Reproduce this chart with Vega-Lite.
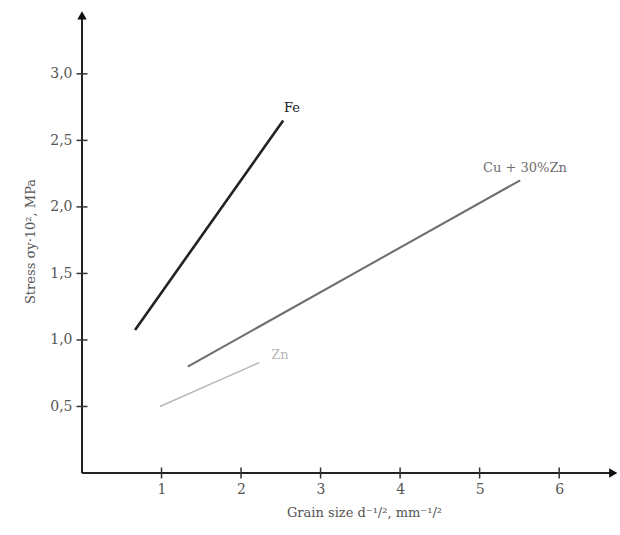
{
  "$schema": "https://vega.github.io/schema/vega-lite/v6.json",
  "width": 536,
  "height": 463,
  "padding": {"left": 82, "top": 10, "right": 2, "bottom": 62},
  "autosize": {"type": "none"},
  "background": "white",
  "config": {
    "view": {"stroke": null},
    "font": "DejaVu Serif",
    "axis": {
      "domain": false,
      "grid": false,
      "ticks": false,
      "labelFont": "DejaVu Serif",
      "labelFontSize": 14,
      "labelColor": "#555",
      "titleFont": "DejaVu Serif",
      "titleFontSize": 13,
      "titleFontWeight": "normal",
      "titleColor": "#555"
    }
  },
  "datasets": {
    "lines": [
      {"series": "Fe", "x": 0.667, "y": 1.075},
      {"series": "Fe", "x": 2.53, "y": 2.65},
      {"series": "Cu + 30%Zn", "x": 1.33, "y": 0.8},
      {"series": "Cu + 30%Zn", "x": 5.51, "y": 2.2},
      {"series": "Zn", "x": 0.98, "y": 0.5},
      {"series": "Zn", "x": 2.23, "y": 0.83}
    ],
    "labels": [
      {"series": "Fe", "x": 2.64, "y": 2.74},
      {"series": "Cu + 30%Zn", "x": 5.57, "y": 2.29},
      {"series": "Zn", "x": 2.49, "y": 0.89}
    ],
    "axisLines": [
      {"axis": "y", "x": 0, "y": 0, "x2": 0, "y2": 3.42},
      {"axis": "x", "x": 0, "y": 0, "x2": 6.66, "y2": 0}
    ],
    "arrows": [
      {"axis": "y", "x": 0, "y": 3.44, "dir": "up"},
      {"axis": "x", "x": 6.68, "y": 0, "dir": "right"}
    ],
    "yTicks": [
      {"x": 0, "y": 0.5}, {"x": 0, "y": 1}, {"x": 0, "y": 1.5},
      {"x": 0, "y": 2}, {"x": 0, "y": 2.5}, {"x": 0, "y": 3}
    ],
    "xTicks": [
      {"x": 1, "y": 0}, {"x": 2, "y": 0}, {"x": 3, "y": 0},
      {"x": 4, "y": 0}, {"x": 5, "y": 0}, {"x": 6, "y": 0}
    ]
  },
  "layer": [
    {
      "data": {"name": "axisLines"},
      "mark": {"type": "rule", "color": "#222", "strokeWidth": 2},
      "encoding": {
        "x": {
          "field": "x",
          "type": "quantitative",
          "scale": {"domain": [0, 6.74], "nice": false, "zero": false},
          "axis": {
            "values": [1, 2, 3, 4, 5, 6],
            "format": "d",
            "labelPadding": 9,
            "title": "Grain size d⁻¹/²,  mm⁻¹/²",
            "titlePadding": 10,
            "titleX": 282
          }
        },
        "y": {
          "field": "y",
          "type": "quantitative",
          "scale": {"domain": [0, 3.48], "nice": false, "zero": false},
          "axis": {
            "values": [0.5, 1, 1.5, 2, 2.5, 3],
            "labelExpr": "replace(format(datum.value, '.1f'), '.', ',')",
            "labelPadding": 10,
            "title": "Stress σy·10², MPa",
            "titlePadding": 12,
            "titleY": 231
          }
        },
        "x2": {"field": "x2"},
        "y2": {"field": "y2"}
      }
    },
    {
      "data": {"name": "yTicks"},
      "mark": {"type": "tick", "orient": "horizontal", "color": "#333", "size": 11, "thickness": 1.5, "opacity": 1},
      "encoding": {
        "x": {"field": "x", "type": "quantitative"},
        "y": {"field": "y", "type": "quantitative"}
      }
    },
    {
      "data": {"name": "xTicks"},
      "mark": {"type": "tick", "orient": "vertical", "color": "#333", "size": 11, "thickness": 1.5, "opacity": 1},
      "encoding": {
        "x": {"field": "x", "type": "quantitative"},
        "y": {"field": "y", "type": "quantitative"}
      }
    },
    {
      "data": {"name": "arrows"},
      "mark": {"type": "point", "filled": true, "color": "#111", "opacity": 1, "size": 90},
      "encoding": {
        "x": {"field": "x", "type": "quantitative"},
        "y": {"field": "y", "type": "quantitative"},
        "shape": {
          "field": "dir",
          "type": "nominal",
          "scale": {"domain": ["up", "right"], "range": ["triangle-up", "triangle-right"]},
          "legend": null
        }
      }
    },
    {
      "data": {"name": "lines"},
      "mark": {"type": "line"},
      "encoding": {
        "x": {"field": "x", "type": "quantitative"},
        "y": {"field": "y", "type": "quantitative"},
        "detail": {"field": "series", "type": "nominal"},
        "color": {
          "field": "series",
          "type": "nominal",
          "scale": {"domain": ["Fe", "Cu + 30%Zn", "Zn"], "range": ["#222222", "#6e6e6e", "#b8b8b8"]},
          "legend": null
        },
        "strokeWidth": {
          "field": "series",
          "type": "nominal",
          "scale": {"domain": ["Fe", "Cu + 30%Zn", "Zn"], "range": [2.6, 1.5, 1.3]},
          "legend": null
        }
      }
    },
    {
      "data": {"name": "labels"},
      "mark": {"type": "text", "font": "DejaVu Serif", "fontSize": 13},
      "encoding": {
        "x": {"field": "x", "type": "quantitative"},
        "y": {"field": "y", "type": "quantitative"},
        "text": {"field": "series", "type": "nominal"},
        "color": {
          "field": "series",
          "type": "nominal",
          "scale": {"domain": ["Fe", "Cu + 30%Zn", "Zn"], "range": ["#333333", "#777777", "#bdbdbd"]},
          "legend": null
        },
        "fontWeight": {
          "field": "series",
          "type": "nominal",
          "scale": {"domain": ["Fe", "Cu + 30%Zn", "Zn"], "range": ["bold", "normal", "normal"]},
          "legend": null
        }
      }
    }
  ]
}
